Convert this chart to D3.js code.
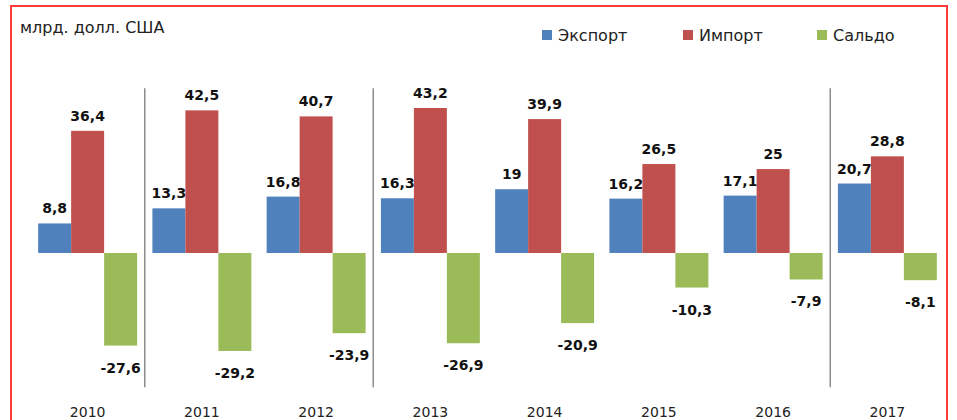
<!DOCTYPE html>
<html>
<head>
<meta charset="utf-8">
<script src="https://cdn.jsdelivr.net/npm/d3@7"></script>
<style>
  html, body { margin: 0; padding: 0; background: #fff; }
  svg { display: block; font-family: "DejaVu Sans", Verdana, sans-serif; }
</style>
</head>
<body>
<svg id="chart" width="957" height="420"></svg>
<script>
'use strict'

// data
const years = ['2010', '2011', '2012', '2013', '2014', '2015', '2016', '2017']
const seriesNames = ['Экспорт', 'Импорт', 'Сальдо']
const exportValues = [8.8, 13.3, 16.8, 16.3, 19, 16.2, 17.1, 20.7]
const importValues = [36.4, 42.5, 40.7, 43.2, 39.9, 26.5, 25, 28.8]
const saldoValues = [-27.6, -29.2, -23.9, -26.9, -20.9, -10.3, -7.9, -8.1]
const separatorsBefore = ['2011', '2013', '2017']
const unitLabel = 'млрд. долл. США'

;(function (d3) {
  const colors = ['#4f81bd', '#c0504d', '#9bbb59']
  const seriesValues = [exportValues, importValues, saldoValues]

  const svg = d3.select('#chart')

  // frame
  svg.append('rect')
    .attr('x', 11).attr('y', 6)
    .attr('width', 936).attr('height', 430)
    .attr('fill', 'none')
    .attr('stroke', '#ff3b3b')
    .attr('stroke-width', 2)

  const x0 = d3.scaleBand()
    .domain(years)
    .range([30.5, 944.5])

  const x1 = d3.scaleBand()
    .domain(seriesNames)
    .range([0, x0.bandwidth()])
    .paddingOuter(0.232)

  const y = d3.scaleLinear()
    .domain([-40, 50])
    .range([387.2, 85.2])

  const fmt = v => String(v).replace('.', ',')

  // separators between year groups
  svg.append('g')
    .selectAll('line')
    .data(separatorsBefore)
    .join('line')
    .attr('x1', d => x0(d)).attr('x2', d => x0(d))
    .attr('y1', y(50) + 3).attr('y2', y(-40))
    .attr('stroke', '#8c8c8c')
    .attr('stroke-width', 1.5)

  // flatten rows
  const rows = []
  years.forEach((yr, i) => {
    seriesNames.forEach((s, j) => {
      rows.push({ year: yr, series: s, idx: j, value: seriesValues[j][i] })
    })
  })

  const labelGroup = () => svg.append('g')
    .attr('font-weight', 'bold')
    .attr('font-size', 14)
    .attr('fill', '#111')
    .attr('text-anchor', 'middle')

  // export labels go under the bars (import bar hides their tail)
  labelGroup().selectAll('text')
    .data(rows.filter(d => d.idx === 0))
    .join('text')
    .attr('x', d => x0(d.year) + x1(d.series) + x1.bandwidth() / 2)
    .attr('y', d => y(d.value) - 10)
    .text(d => fmt(d.value))

  svg.append('g')
    .selectAll('rect')
    .data(rows)
    .join('rect')
    .attr('x', d => x0(d.year) + x1(d.series))
    .attr('width', x1.bandwidth())
    .attr('y', d => y(Math.max(0, d.value)))
    .attr('height', d => Math.abs(y(d.value) - y(0)))
    .attr('fill', d => colors[d.idx])

  labelGroup().selectAll('text')
    .data(rows.filter(d => d.idx > 0))
    .join('text')
    .attr('x', d => x0(d.year) + x1(d.series) + x1.bandwidth() / 2)
    .attr('y', d => d.value >= 0 ? y(d.value) - 10 : y(d.value) + 27)
    .text(d => fmt(d.value))

  // year labels
  const xAxis = svg.append('g')
    .attr('transform', `translate(0, ${y(-40)})`)
    .call(d3.axisBottom(x0).tickSize(0).tickPadding(20))
  xAxis.select('.domain').remove()
  xAxis.selectAll('text')
    .attr('font-size', 14)
    .attr('font-family', '"DejaVu Sans", Verdana, sans-serif')
    .attr('fill', '#222')

  // unit label
  svg.append('text')
    .attr('x', 20).attr('y', 33)
    .attr('font-size', 16)
    .attr('fill', '#222')
    .text(unitLabel)

  // legend
  const legendX = [542, 683, 817]
  const legend = svg.append('g')
    .selectAll('g')
    .data(seriesNames)
    .join('g')
    .attr('transform', (d, i) => `translate(${legendX[i]}, 30)`)
  legend.append('rect')
    .attr('width', 10).attr('height', 10)
    .attr('fill', (d, i) => colors[i])
  legend.append('text')
    .attr('x', 16).attr('y', 11)
    .attr('font-size', 16)
    .attr('fill', '#222')
    .text(d => d)
})(d3)
</script>
</body>
</html>
